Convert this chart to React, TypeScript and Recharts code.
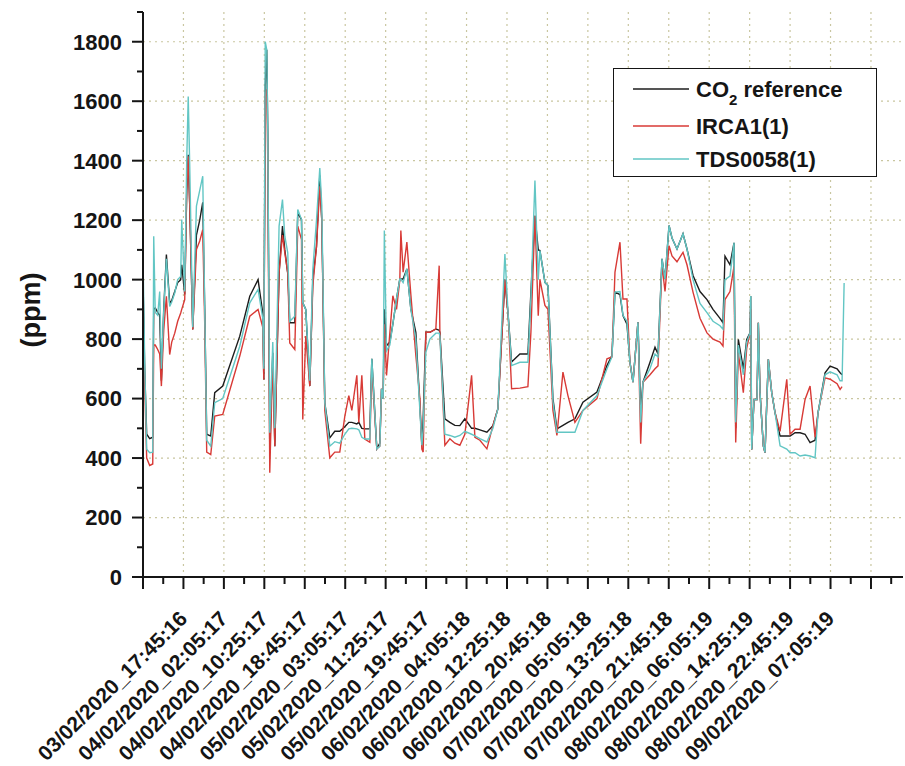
import { CartesianGrid, Legend, Line, LineChart, XAxis, YAxis } from "recharts";

// hours elapsed since 03/02/2020 09:25:16
const hours = [
  0, 0.35, 0.76, 1.38, 2.01, 2.21, 2.52, 3.03, 3.44, 3.79, 4.27, 4.82, 5.5, 5.92, 6.54, 7.15, 7.77, 7.98, 8.6, 9.01,
  9.32, 9.63, 10.25, 11.01, 11.69, 12.31, 12.72, 13.13, 13.96, 14.78, 16.43, 19.94, 22.0, 23.71, 24.68, 24.89, 25.19, 25.5, 25.71, 26.12,
  26.74, 27.16, 28.04, 28.74, 29.22, 29.83, 30.24, 31.28, 31.89, 32.66, 32.92, 33.54, 34.37, 34.99, 35.75, 36.43, 36.84, 37.46, 38.49, 39.52,
  40.55, 41.58, 42.41, 43.03, 44.06, 44.47, 45.09, 45.71, 46.74, 47.15, 48.18, 48.8, 49.15, 49.48, 49.73, 50.18, 50.86, 51.48, 52.24, 52.92,
  53.13, 53.6, 54.37, 55.19, 56.22, 57.05, 57.46, 57.73, 58.28, 59.11, 60.34, 61.03, 61.17, 62.2, 63.23, 64.26, 65.29, 66.32, 67.71, 68.39,
  69.42, 70.86, 72.1, 73.13, 74.57, 75.25, 75.95, 77.66, 79.31, 79.93, 80.76, 81.44, 81.79, 82.82, 83.44, 84.47, 85.29, 86.53, 87.56, 89.0,
  90.65, 93.54, 95.6, 96.63, 97.25, 98.28, 98.9, 99.72, 100.34, 100.96, 101.99, 102.55, 103.02, 104.47, 105.5, 106.12, 106.94, 107.56, 108.39, 109.0,
  110.03, 111.27, 112.09, 113.33, 114.77, 116.21, 117.45, 118.89, 119.51, 119.92, 120.95, 121.78, 122.13, 122.67, 123.7, 124.4, 125.08, 125.22, 125.43, 125.9,
  126.52, 126.79, 127.14, 127.82, 128.17, 128.85, 129.55, 130.23, 131.27, 132.65, 133.33, 134.36, 135.39, 136.42, 137.45, 138.48, 139.1, 140.54, 141.58, 143.02,
  143.64, 144.05, 144.47,
];

const co2Reference: (number | null)[] = [
  1000, 700, 480, 465, 470, 900, 905, 890, 880, 660, 900, 1084, 920, 930, 960, 990, 1000, 1050, 950, 1300,
  1420, 1250, 832, 1150, 1200, 1260, 900, 480, 474, 620, 642, 810, 944, 1000, 888, 664, 1650, 1773, 1500, 420,
  754, 440, 1023, 1180, 1100, 1020, 855, 855, 1224, 1202, 922, 900, 642, 1000, 1112, 1350, 1200, 586, 468, 490,
  490, 505, 520, 520, 515, 520, 500, 498, 498, 734, 431, 450, 633, 599, 900, 778, 790, 850, 935, 1002,
  1002, 1002, 1036, 902, 823, 577, 443, 532, 823, 823, 834, 830, 823, 532, 520, 510, 509, 532, 500, 500,
  495, 487, 509, 566, 1000, 879, 723, 750, 750, 958, 1215, 1100, 1098, 991, 980, 600, 498, 510, 520, 532,
  588, 622, 711, 745, 958, 950, 879, 850, 722, 655, 857, 560, 655, 722, 773, 750, 1070, 1002, 1182, 1140,
  1103, 1154, 1103, 1014, 960, 933, 900, 870, 855, 1079, 1050, 1124, 500, 799, 700, 799, 821, 945, 429, 597,
  597, 855, 620, 441, 418, 732, 620, 553, 474, 474, 474, 485, 485, 480, 452, 460, 553, 687, 709, 700,
  687, 680, null,
];

const irca1: (number | null)[] = [
  940, 650, 400, 375, 380, 780, 780, 765, 750, 642, 830, 944, 748, 790, 820, 860, 888, 900, 933, 1300,
  1415, 1250, 832, 1101, 1130, 1168, 850, 420, 412, 541, 547, 743, 877, 900, 840, 664, 1616, 1640, 1400, 351,
  740, 440, 1023, 1150, 1090, 1023, 787, 765, 1180, 1135, 530, 810, 642, 978, 1112, 1314, 1200, 560, 401, 420,
  420, 540, 610, 560, 678, 520, 678, 464, 453, 700, 431, 440, 633, 599, 850, 678, 820, 946, 900, 1000,
  1165, 1025, 1126, 950, 745, 600, 430, 420, 823, 823, 834, 1047, 823, 443, 465, 450, 443, 480, 678, 470,
  460, 431, 509, 566, 1000, 879, 633, 635, 640, 823, 1215, 879, 1000, 913, 900, 560, 476, 689, 610, 520,
  560, 600, 734, 740, 1025, 1126, 935, 935, 722, 655, 857, 448, 655, 680, 700, 710, 1050, 960, 1114, 1080,
  1060, 1092, 1050, 958, 870, 821, 800, 790, 777, 933, 960, 1045, 452, 754, 620, 770, 821, 900, 429, 597,
  597, 855, 620, 441, 418, 732, 620, 553, 490, 665, 480, 497, 497, 597, 642, 470, 553, 670, 665, 650,
  631, 640, null,
];

const tds0058: (number | null)[] = [
  1080, 720, 430, 418, 420, 1146, 890, 880, 960, 700, 890, 1070, 910, 925, 955, 1000, 1011, 1202, 960, 1400,
  1616, 1380, 840, 1247, 1300, 1348, 900, 460, 440, 586, 600, 776, 922, 967, 870, 700, 1800, 1773, 1500, 485,
  790, 500, 1180, 1269, 1146, 1090, 860, 877, 1236, 1202, 922, 900, 660, 1034, 1200, 1375, 1250, 586, 440, 455,
  450, 480, 498, 500, 498, 495, 470, 464, 464, 734, 431, 440, 633, 599, 1165, 760, 780, 850, 935, 1002,
  1002, 990, 1036, 900, 800, 560, 443, 500, 756, 800, 820, 820, 810, 480, 476, 470, 476, 490, 480, 475,
  465, 454, 500, 566, 1086, 879, 711, 722, 722, 940, 1333, 1000, 1098, 991, 980, 590, 487, 487, 487, 487,
  560, 610, 700, 740, 958, 960, 880, 860, 722, 655, 857, 520, 655, 700, 750, 740, 1070, 1002, 1182, 1140,
  1103, 1154, 1103, 1000, 920, 889, 860, 845, 833, 1000, 1012, 1124, 520, 780, 680, 790, 821, 945, 429, 597,
  597, 855, 620, 441, 418, 732, 620, 553, 441, 430, 418, 418, 407, 410, 407, 401, 553, 680, 690, 680,
  660, 660, 989,
];

// labels of the major ticks 1..17 (one every 8 h 20 min)
const timeLabels = [
  "03/02/2020_17:45:16", "04/02/2020_02:05:17", "04/02/2020_10:25:17", "04/02/2020_18:45:17",
  "05/02/2020_03:05:17", "05/02/2020_11:25:17", "05/02/2020_19:45:17", "06/02/2020_04:05:18",
  "06/02/2020_12:25:18", "06/02/2020_20:45:18", "07/02/2020_05:05:18", "07/02/2020_13:25:18",
  "07/02/2020_21:45:18", "08/02/2020_06:05:19", "08/02/2020_14:25:19", "08/02/2020_22:45:19",
  "09/02/2020_07:05:19",
];

const STEP = 25 / 3; // 8h20m
const xTicks = Array.from({ length: 38 }, (_, i) => (i * STEP) / 2);
const xGrid = Array.from({ length: 18 }, (_, i) => (i + 1) * STEP);
const yTicks = Array.from({ length: 20 }, (_, i) => i * 100);
const yGrid = [200, 400, 600, 800, 1000, 1200, 1400, 1600, 1800];

const data = hours.map((h, i) => ({ h, ref: co2Reference[i], irca: irca1[i], tds: tds0058[i] }));

const FONT = "'Liberation Sans', Arial, sans-serif";
const INK = "#151515";

function XTick({ x, y, payload }: any) {
  const i = Math.round((payload.value * 2) / STEP);
  const major = i % 2 === 0;
  const label = major && i > 0 ? timeLabels[i / 2 - 1] : undefined;
  const lx = x + 5;
  const ly = y + 43;
  return (
    <g>
      <line x1={x} x2={x} y1={y} y2={y + (major ? 12 : 7)} stroke={INK} strokeWidth={2} />
      {label && (
        <text x={lx} y={ly} transform={`rotate(-45 ${lx} ${ly})`} textAnchor="end" fontFamily={FONT} fontWeight="bold" fontSize={21} fill={INK}>
          {label}
        </text>
      )}
    </g>
  );
}

function YTick({ x, y, payload }: any) {
  const major = payload.value % 200 === 0;
  return (
    <g>
      <line x1={x} x2={x - (major ? 11 : 6)} y1={y} y2={y} stroke={INK} strokeWidth={2} />
      {major && (
        <text x={x - 21} y={y} dy="0.36em" textAnchor="end" fontFamily={FONT} fontWeight="bold" fontSize={22} fill={INK}>
          {payload.value}
        </text>
      )}
    </g>
  );
}

const series = [
  { key: "ref", color: "#1c1c1c", name: <>CO<tspan dy={8} fontSize={15}>2</tspan><tspan dy={-8}> reference</tspan></> },
  { key: "irca", color: "#d83a36", name: <>IRCA1(1)</> },
  { key: "tds", color: "#62c6c4", name: <>TDS0058(1)</> },
];

function LegendBox() {
  const rows = [20, 57, 90];
  return (
    <div style={{ width: 264, height: 109, border: `1.6px solid ${INK}`, boxSizing: "border-box", background: "#fff" }}>
      <svg width={262} height={106}>
        {series.map((s, i) => (
          <g key={s.key}>
            <line x1={19} x2={75} y1={rows[i]} y2={rows[i]} stroke={s.color} strokeWidth={1.3} />
            <text x={82} y={rows[i]} dy="0.36em" fontFamily={FONT} fontWeight="bold" fontSize={22} fill={INK}>
              {s.name}
            </text>
          </g>
        ))}
      </svg>
    </div>
  );
}

export default function App() {
  return (
    <div style={{ position: "absolute", left: 0, top: 0, width: 905, height: 766, background: "#fff" }}>
      <LineChart width={905} height={766} data={data} margin={{ top: 12, right: 2, bottom: 0, left: 0 }}>
        <CartesianGrid stroke="#c9c6a0" strokeDasharray="2 4" strokeWidth={1.2} horizontalValues={yGrid} verticalValues={xGrid} />
        <XAxis
          dataKey="h"
          type="number"
          domain={[0, 156.6]}
          ticks={xTicks}
          interval={0}
          allowDataOverflow
          height={189}
          tickSize={0}
          tickMargin={0}
          tickLine={false}
          tick={<XTick />}
          axisLine={{ stroke: INK, strokeWidth: 2 }}
        />
        <YAxis
          type="number"
          domain={[0, 1900]}
          ticks={yTicks}
          interval={0}
          width={143}
          tickSize={0}
          tickMargin={0}
          tickLine={false}
          tick={<YTick />}
          axisLine={{ stroke: INK, strokeWidth: 2 }}
          label={{
            content: () => (
              <text x={30} y={310} transform="rotate(-90 30 310)" textAnchor="middle" dy="0.36em" fontFamily={FONT} fontWeight="bold" fontSize={27} fill={INK}>
                (ppm)
              </text>
            ),
          }}
        />
        <Legend
          layout="vertical"
          align="center"
          verticalAlign="middle"
          content={() => <LegendBox />}
          wrapperStyle={{ position: "absolute", left: 613, top: 68, width: 264, height: 109 }}
        />
        {series.map((s) => (
          <Line key={s.key} dataKey={s.key} stroke={s.color} strokeWidth={1.4} dot={false} isAnimationActive={false} connectNulls={false} />
        ))}
      </LineChart>
    </div>
  );
}
